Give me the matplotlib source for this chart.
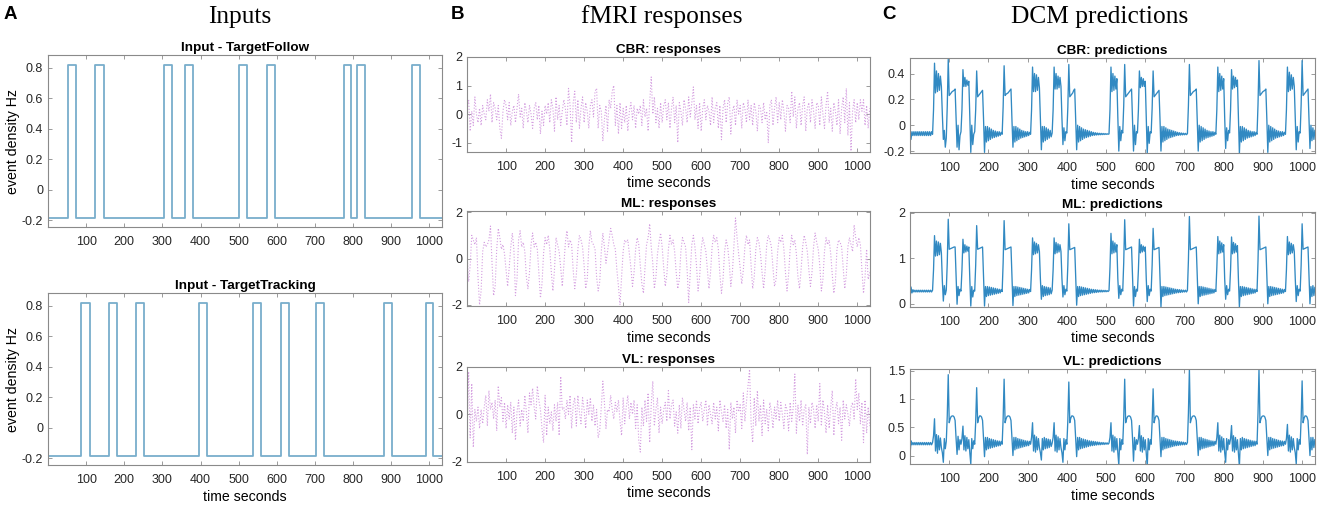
import numpy as np
import matplotlib.pyplot as plt

plt.rcParams['font.family'] = ['Liberation Sans', 'DejaVu Sans']

# ---- panel A: input blocks (seconds)
follow_on = [52, 124, 303, 358, 502, 575, 775, 810, 953]
follow_off = [74, 146, 324, 380, 523, 595, 794, 831, 974]
track_on = [87, 159, 231, 395, 538, 610, 702, 880, 990]
track_off = [109, 181, 252, 416, 559, 631, 724, 902, 1010]
input_low = -0.183
input_high = 0.817
t_end = 1033

# ---- panel B: measured fMRI responses, one sample every 4 s
resp_step = 4.0
cbr_resp = [
    0.2, 0.5, -0.6, 0.1, -0.4, 0.6, 0.0, -0.3, 0.2, -0.4, 0.3, 0.0, -0.2, 0.5, 0.1, 0.7, -0.3, 0.4, 0.2, -0.2, 0.3, -0.5, -0.85, 0.1, 0.5,
    0.3, -0.2, 0.4, -0.4, 0.1, 0.3, -0.3, 0.2, 0.7, -0.1, 0.2, -0.5, 0.4, 0.1, -0.3, 0.3, 0.0, -0.5, 0.2, 0.4, -0.2, 0.3, -0.7, 0.1, -0.4,
    0.3, 0.0, 0.4, -0.3, 0.5, 0.2, -0.6, 0.6, -0.2, 0.3, -0.4, 0.1, 0.5, 0.2, -0.4, 0.9, 0.3, -1.0, 0.4, 0.8, -0.3, 0.5, -0.5, 0.2, 0.6,
    -0.3, 0.4, 0.1, -0.5, 0.3, 0.5, -0.1, 0.8, 0.9, -0.5, 0.3, 0.1, -0.95, -0.2, 0.3, -0.6, 0.5, 0.2, 0.8, 1.0, -0.4, 0.3, -0.7, 0.4, -0.5,
    0.2, -0.3, 0.3, -0.6, 0.1, 0.4, -0.2, 0.3, -0.5, 0.2, 0.0, 0.3, -0.4, 0.5, -0.1, 0.2, -0.6, 0.4, 1.3, 0.0, 0.6, -0.3, 0.2, -0.5, 0.4,
    -0.3, 0.3, 0.5, -0.2, 0.4, -0.5, 0.2, 0.6, -0.3, 0.3, -1.0, 0.4, 0.1, -0.4, 0.5, 0.2, -0.3, 0.6, -0.1, 0.4, 0.95, -0.2, 0.3, -0.5, 0.4,
    -0.6, 0.2, 0.5, -0.2, 0.3, 0.1, -0.4, 0.6, -0.3, 0.2, 0.4, -0.5, 0.3, -0.9, 0.2, 0.5, -0.3, 0.4, 0.6, -0.7, 0.1, 0.3, -0.4, 0.5, 0.0,
    0.3, -0.5, 0.4, 0.2, -0.3, 0.5, -0.2, 0.3, -0.4, 0.4, 0.1, -0.6, 0.3, 0.2, -0.3, 0.4, -0.2, 0.1, -1.0, 0.3, 0.5, -0.4, 0.2, 0.6, -0.3,
    0.4, -0.2, 0.5, 0.1, -0.6, 0.3, 0.2, -0.3, 0.8, -0.1, 0.6, -0.5, 0.2, 0.4, -0.4, 0.3, 0.6, -0.6, 0.2, 0.4, -0.3, 0.5, 0.1, -0.5, 0.4,
    0.3, -0.4, 0.6, 0.0, -0.5, 0.3, 0.8, -0.3, 0.2, -0.6, 0.4, 0.1, -0.4, 0.5, -0.7, 0.2, 0.6, -0.3, 0.9, -0.75, 0.4, -1.3, 0.1, 0.5, -0.3,
    0.4, -0.2, 0.5, 0.1, 0.5, -0.4, 0.3, -0.5, 0.2,
]
ml_resp = [
    0.2, -1.0, -0.3, 1.0, 0.8, 0.6, 0.9, -0.8, -2.0, -1.4, 0.3, 0.7, 0.5, 0.6, 0.8, 1.4, -0.2, -1.6, -1.2, 0.4, 1.3, 0.9, 0.4, 0.6, 0.2,
    -0.5, -1.2, -0.4, 0.5, 1.1, 0.4, -1.6, -0.9, 0.8, 1.2, 0.5, 0.7, 0.3, -0.8, -1.3, -0.6, 0.6, 1.1, 0.5, 0.7, 0.4, -0.6, -1.7, -1.1, 0.2,
    0.9, 0.6, 1.0, 0.4, -0.6, -1.4, -0.5, 0.9, 0.6, 0.3, -0.4, -1.2, -0.3, 0.7, 1.2, 0.5, 0.8, 0.6, -0.5, -1.3, -0.7, 0.4, 1.0, 0.8, 0.5,
    -0.3, -1.3, -0.9, 0.5, 1.2, 0.7, 0.6, 0.4, -0.8, -1.4, -1.0, 0.3, 1.1, 0.5, -0.2, 0.3, 0.8, 1.3, 1.0, 0.6, 0.4, -0.5, -1.2, -2.0, -0.8,
    0.3, 0.8, 0.7, 0.8, 0.2, -0.4, -1.2, -0.6, 0.4, 0.9, 0.6, -0.3, -1.1, -1.5, -0.4, 0.6, 0.9, 1.5, 0.5, -0.2, -1.3, -0.8, 0.2, 0.7, 1.1,
    0.5, -0.4, -1.2, -0.7, 0.4, 1.0, 0.6, 0.8, 0.3, -0.6, -1.3, -0.9, 0.3, 0.9, 0.7, 0.5, -0.5, -1.9, -0.6, 0.6, 1.0, 0.5, -0.3, -1.4, -0.8,
    0.4, 0.9, 0.6, 0.3, -0.5, -1.3, -0.6, 0.5, 1.0, 0.7, 0.9, 0.4, -0.7, -1.5, -0.9, 0.3, 0.8, 0.5, -0.2, -1.2, -0.6, 0.6, 1.75, 0.9, 0.2,
    -0.4, -1.1, -0.5, 0.5, 1.0, 0.6, 0.8, -0.3, -1.3, -0.8, 0.4, 0.9, 0.7, 0.2, -0.6, -1.3, -0.5, 0.6, 1.0, 0.8, 0.5, -0.4, -1.2, -0.9, 0.3,
    0.9, 0.7, 1.0, 0.4, -0.6, -1.4, -0.7, 0.4, 1.0, 0.6, 0.8, 0.2, -0.8, -1.3, -0.5, 0.5, 1.0, 0.7, 0.3, -0.5, -1.2, -0.6, 0.5, 1.1, 0.7,
    0.4, -0.3, -1.4, -0.9, 0.3, 0.9, 0.6, 0.8, 0.2, -0.7, -1.5, -1.0, 0.4, 0.8, 0.7, 0.5, -0.4, -1.3, -0.7, 0.5, 0.9, 0.6, 0.3, 1.45, 0.9,
    0.5, 0.9, 0.6, -0.5, -1.5, -0.8, 0.4, -0.9, -0.6,
]
vl_resp = [
    -0.8, 1.8, -1.0, 1.3, -1.4, 0.2, -0.3, 0.3, -0.6, 0.2, -0.4, 0.3, 0.8, -0.5, 1.0, 0.2, 0.5, -0.2, 0.6, -0.7, 1.2, 0.3, 0.7, -0.3, 0.5,
    -0.6, 0.4, -0.2, 0.5, -0.8, 0.3, -1.1, 0.1, 0.6, -0.5, 0.2, -0.3, 0.8, 0.1, -0.8, 0.9, 0.4, 1.1, 0.3, -0.2, 1.2, 0.6, 0.2, -0.6, -1.2,
    0.8, -0.9, 0.3, -0.4, 0.1, -0.7, 0.4, -0.3, 0.5, -0.9, 1.6, 0.2, 0.3, -0.2, 0.6, 0.0, 0.8, -0.6, 0.4, 0.7, -0.5, 0.8, 0.1, -0.4, 0.7,
    0.2, -0.6, 0.6, 0.0, 0.7, -0.3, 0.4, -0.5, 0.2, -1.0, -0.7, 0.3, 1.4, 0.5, -0.6, 0.2, 0.1, 0.8, 0.2, -0.2, 0.5, 0.1, 0.6, -0.3, -0.9,
    0.7, -0.4, 0.3, 0.8, -0.2, 0.5, 0.0, 0.6, -0.6, 0.4, -1.1, -1.6, 0.3, -0.5, 0.6, -0.3, 0.9, -1.2, 0.4, 1.4, -0.5, 0.2, 0.7, -0.8, 0.3,
    -0.4, 0.2, 0.5, -0.3, 1.0, -0.2, 0.4, 0.6, -0.5, 0.1, -0.8, 0.4, -0.6, 0.7, 0.2, -0.3, 0.5, -0.7, 0.3, -1.5, 0.4, -0.2, 0.6, -0.4, 0.3,
    0.5, -0.3, 0.2, 0.6, -0.5, 0.4, 0.0, -0.4, 0.5, -0.2, 0.3, -0.7, 0.6, 0.1, -0.3, 0.4, -0.6, 0.2, -1.5, 0.5, -0.2, 0.3, -0.8, 0.6, 0.1,
    0.4, -0.6, 0.9, -0.3, 0.5, 1.2, 1.9, -0.4, -1.2, 0.7, -0.5, 1.0, -0.3, 0.4, -0.9, 0.6, -0.4, 0.2, -0.7, 0.5, 0.1, -0.6, 0.3, -0.2, 0.6,
    -0.3, 0.5, 0.0, -0.6, 0.4, 0.2, -0.7, 0.5, -0.3, 0.3, 1.7, -0.8, 0.4, -0.3, 0.6, -0.5, 0.2, 0.4, -1.7, 0.3, -0.4, 0.5, 0.2, -0.6, 0.4,
    -0.3, 1.3, -0.5, 0.6, 0.1, -0.8, 0.4, -0.6, 0.3, 1.0, -0.9, 0.2, 0.5, -0.4, 0.3, -1.1, 0.6, -0.2, 0.4, 0.0, -0.5, 0.3, 0.5, -0.2, 1.5,
    0.2, 0.9, -0.4, 0.5, -1.2, 0.6, -0.8, 0.3, -0.5,
]

# ---- panel C: DCM predictions, one sample every 2.5 s
pred_step = 2.5
cbr_pred = [
    -0.02, -0.11, -0.05, -0.08, -0.05, -0.08, -0.05, -0.08, -0.05, -0.08, -0.05, -0.08,
    -0.05, -0.08, -0.05, -0.08, -0.05, -0.08, -0.05, -0.08, -0.05, -0.08, -0.05, -0.07,
    0.12, 0.48, 0.25, 0.42, 0.26, 0.40, 0.27, 0.38, 0.30, 0.08, -0.11, -0.04,
    -0.17, -0.10,
    0.15, 0.51, 0.23, 0.24, 0.25, 0.26, 0.265, 0.27, 0.28, 0.05, -0.17, 0.00,
    -0.19, -0.08, -0.05,
    0.12, 0.43, 0.30, 0.37, 0.30, 0.35, 0.31, 0.34, 0.06, -0.21, 0.00,
    -0.15, -0.07, -0.05,
    0.12, 0.42, 0.22, 0.23, 0.24, 0.25, 0.26, 0.27, 0.05, -0.21, -0.01,
    -0.13, -0.01, -0.12, -0.02, -0.11, -0.03, -0.10, -0.04, -0.095, -0.045, -0.09, -0.05, -0.085, -0.05, -0.08, -0.055, -0.07,
    0.14, 0.46, 0.23, 0.24, 0.245, 0.25, 0.26, 0.27, 0.28, 0.04, -0.17, -0.01,
    -0.13, -0.01, -0.12, -0.02, -0.11, -0.03, -0.10, -0.04, -0.095, -0.045, -0.09, -0.05, -0.085, -0.05, -0.08, -0.055, -0.07,
    0.12, 0.45, 0.26, 0.40, 0.26, 0.39, 0.27, 0.37, 0.29, 0.06, -0.19, -0.01,
    -0.13, -0.01, -0.12, -0.02, -0.11, -0.03, -0.10, -0.04, -0.09, -0.06,
    0.12, 0.45, 0.28, 0.40, 0.28, 0.38, 0.29, 0.37, 0.30, 0.05, -0.15, -0.02,
    -0.12, -0.05, -0.06,
    0.14, 0.47, 0.22, 0.23, 0.24, 0.25, 0.27, 0.28, 0.05, -0.19, 0.00,
    -0.13, -0.01, -0.12, -0.02, -0.11, -0.03, -0.10, -0.035, -0.095, -0.04, -0.09, -0.045, -0.085, -0.05, -0.08, -0.055,
    -0.078, -0.058, -0.076, -0.06, -0.075, -0.062, -0.074, -0.063, -0.073, -0.064, -0.072, -0.065, -0.071, -0.066, -0.07, -0.067,
    0.12, 0.45, 0.26, 0.40, 0.27, 0.38, 0.28, 0.36, 0.06, -0.20, -0.01,
    -0.12, -0.04, -0.06,
    0.15, 0.47, 0.22, 0.23, 0.24, 0.25, 0.26, 0.27, 0.28, 0.05, -0.20, 0.00,
    -0.15, -0.05, -0.06,
    0.12, 0.42, 0.29, 0.37, 0.30, 0.36, 0.30, 0.34, 0.05, -0.22, -0.01,
    -0.14, -0.05, -0.06,
    0.13, 0.42, 0.22, 0.23, 0.24, 0.25, 0.26, 0.27, 0.05, -0.20, -0.01,
    -0.13, -0.01, -0.12, -0.02, -0.11, -0.03, -0.10, -0.035, -0.095, -0.04, -0.09, -0.045, -0.085,
    -0.05, -0.08, -0.055, -0.078, -0.058, -0.076, -0.06, -0.075, -0.062, -0.074, -0.063, -0.073, -0.065,
    0.15, 0.47, 0.23, 0.24, 0.25, 0.26, 0.265, 0.27, 0.28, 0.05, -0.20, 0.00,
    -0.13, -0.01, -0.12, -0.02, -0.11, -0.03, -0.10, -0.04, -0.095, -0.045, -0.09, -0.05, -0.085, -0.05, -0.08, -0.055, -0.07,
    0.12, 0.45, 0.26, 0.40, 0.27, 0.38, 0.28, 0.36, 0.06, -0.18, -0.02,
    -0.12, -0.04, -0.06,
    0.12, 0.43, 0.28, 0.38, 0.29, 0.37, 0.30, 0.35, 0.05, -0.22, -0.01,
    -0.13, -0.01, -0.12, -0.02, -0.11, -0.03, -0.10, -0.04, -0.095, -0.045, -0.09, -0.05, -0.085, -0.05, -0.08, -0.055, -0.07,
    0.16, 0.50, 0.23, 0.24, 0.25, 0.26, 0.265, 0.27, 0.28, 0.05, -0.21, 0.00,
    -0.13, -0.01, -0.12, -0.02, -0.11, -0.03, -0.10, -0.04, -0.095, -0.045, -0.09, -0.05, -0.085, -0.05, -0.08, -0.055, -0.07,
    0.12, 0.45, 0.26, 0.41, 0.27, 0.39, 0.28, 0.37, 0.30, 0.06, -0.19, -0.01,
    -0.13, -0.05, -0.06,
    0.16, 0.50, 0.23, 0.24, 0.25, 0.26, 0.27, 0.28, 0.05, -0.18, 0.00,
    -0.12, -0.02, -0.11, -0.04,
]
ml_pred = [
    0.10, 0.37, 0.24, 0.31, 0.26, 0.30, 0.26, 0.30, 0.26, 0.30, 0.26, 0.30,
    0.26, 0.30, 0.26, 0.30, 0.26, 0.30, 0.26, 0.30, 0.26, 0.30, 0.26, 0.30,
    0.75, 1.50, 1.05, 1.38, 1.06, 1.36, 1.08, 1.33, 1.12, 0.50, 0.06, 0.40,
    0.20, 0.30,
    0.90, 1.86, 1.20, 1.21, 1.22, 1.23, 1.24, 1.25, 1.25, 0.60, -0.01, 0.38,
    0.18, 0.32, 0.28,
    0.75, 1.42, 1.12, 1.30, 1.14, 1.27, 1.16, 1.25, 0.55, -0.05, 0.38,
    0.15, 0.30, 0.28,
    0.85, 1.72, 1.20, 1.21, 1.22, 1.23, 1.24, 1.25, 0.60, -0.05, 0.38,
    0.16, 0.38, 0.18, 0.37, 0.19, 0.36, 0.20, 0.35, 0.21, 0.34, 0.22, 0.33, 0.23, 0.32, 0.24, 0.315, 0.27,
    0.90, 1.83, 1.19, 1.20, 1.21, 1.22, 1.23, 1.24, 1.25, 0.60, -0.04, 0.38,
    0.16, 0.38, 0.18, 0.37, 0.19, 0.36, 0.20, 0.35, 0.21, 0.34, 0.22, 0.33, 0.23, 0.32, 0.24, 0.315, 0.27,
    0.75, 1.45, 1.08, 1.36, 1.10, 1.33, 1.12, 1.30, 1.15, 0.55, 0.10, 0.40,
    0.16, 0.38, 0.18, 0.37, 0.19, 0.36, 0.20, 0.35, 0.22, 0.30,
    0.75, 1.45, 1.10, 1.35, 1.12, 1.32, 1.14, 1.30, 1.15, 0.55, 0.15, 0.40,
    0.20, 0.32, 0.28,
    0.85, 1.76, 1.19, 1.20, 1.21, 1.22, 1.23, 1.24, 0.60, -0.03, 0.38,
    0.16, 0.38, 0.18, 0.37, 0.19, 0.36, 0.20, 0.35, 0.21, 0.34, 0.22, 0.33, 0.23, 0.32, 0.24, 0.315,
    0.245, 0.31, 0.25, 0.305, 0.255, 0.30, 0.26, 0.30, 0.26, 0.295, 0.265, 0.295, 0.265, 0.29, 0.27, 0.29,
    0.80, 1.55, 1.10, 1.38, 1.12, 1.34, 1.14, 1.30, 0.55, 0.12, 0.40,
    0.20, 0.32, 0.28,
    0.90, 1.85, 1.19, 1.20, 1.21, 1.22, 1.23, 1.24, 1.25, 0.60, -0.05, 0.38,
    0.16, 0.32, 0.28,
    0.75, 1.42, 1.12, 1.30, 1.14, 1.27, 1.16, 1.25, 0.55, 0.05, 0.40,
    0.18, 0.32, 0.28,
    0.85, 1.66, 1.19, 1.20, 1.21, 1.22, 1.23, 1.24, 0.60, -0.07, 0.38,
    0.16, 0.38, 0.18, 0.37, 0.19, 0.36, 0.20, 0.35, 0.21, 0.34, 0.22, 0.33, 0.23,
    0.32, 0.24, 0.315, 0.245, 0.31, 0.25, 0.305, 0.255, 0.30, 0.26, 0.30, 0.26, 0.295,
    0.95, 1.92, 1.19, 1.20, 1.21, 1.22, 1.23, 1.24, 1.25, 0.60, 0.00, 0.38,
    0.16, 0.38, 0.18, 0.37, 0.19, 0.36, 0.20, 0.35, 0.21, 0.34, 0.22, 0.33, 0.23, 0.32, 0.24, 0.315, 0.27,
    0.80, 1.48, 1.10, 1.38, 1.12, 1.34, 1.14, 1.30, 0.55, 0.10, 0.40,
    0.20, 0.32, 0.28,
    0.75, 1.47, 1.10, 1.35, 1.12, 1.32, 1.14, 1.28, 0.55, -0.07, 0.38,
    0.16, 0.38, 0.18, 0.37, 0.19, 0.36, 0.20, 0.35, 0.21, 0.34, 0.22, 0.33, 0.23, 0.32, 0.24, 0.315, 0.27,
    0.95, 1.93, 1.19, 1.20, 1.21, 1.22, 1.23, 1.24, 1.25, 0.60, 0.00, 0.38,
    0.16, 0.38, 0.18, 0.37, 0.19, 0.36, 0.20, 0.35, 0.21, 0.34, 0.22, 0.33, 0.23, 0.32, 0.24, 0.315, 0.27,
    0.75, 1.48, 1.08, 1.36, 1.10, 1.33, 1.12, 1.30, 1.15, 0.55, 0.05, 0.40,
    0.18, 0.32, 0.28,
    0.85, 1.76, 1.20, 1.21, 1.22, 1.23, 1.24, 1.25, 0.60, 0.00, 0.38,
    0.16, 0.40, 0.18, 0.36,
]
vl_pred = [
    0.00, 0.26, 0.19, 0.23, 0.19, 0.23, 0.19, 0.23, 0.19, 0.23, 0.19, 0.23,
    0.19, 0.23, 0.19, 0.23, 0.19, 0.23, 0.19, 0.23, 0.19, 0.23, 0.19, 0.23,
    0.35, 0.65, 0.08, 0.37, 0.04, 0.35, 0.10, 0.31, 0.14, 0.05, -0.12, 0.30,
    0.12, 0.25,
    0.70, 1.43, 0.58, 0.65, 0.69, 0.70, 0.70, 0.68, 0.62, 0.30, 0.02, 0.34,
    0.10, 0.28, 0.20,
    0.30, 0.52, 0.10, 0.35, 0.08, 0.32, 0.12, 0.28, 0.05, -0.15, 0.30,
    0.12, 0.26, 0.20,
    0.60, 1.20, 0.58, 0.66, 0.70, 0.70, 0.68, 0.62, 0.30, -0.02, 0.32,
    0.10, 0.32, 0.12, 0.30, 0.13, 0.29, 0.14, 0.28, 0.15, 0.27, 0.16, 0.26, 0.17, 0.255, 0.175, 0.25, 0.20,
    0.65, 1.35, 0.58, 0.65, 0.69, 0.70, 0.70, 0.68, 0.62, 0.30, 0.00, 0.32,
    0.10, 0.32, 0.12, 0.30, 0.13, 0.29, 0.14, 0.28, 0.15, 0.27, 0.16, 0.26, 0.17, 0.255, 0.175, 0.25, 0.20,
    0.32, 0.58, 0.08, 0.36, 0.06, 0.33, 0.10, 0.30, 0.14, 0.05, -0.08, 0.30,
    0.10, 0.32, 0.12, 0.30, 0.13, 0.29, 0.14, 0.28, 0.16, 0.22,
    0.32, 0.58, 0.08, 0.36, 0.06, 0.33, 0.10, 0.30, 0.14, 0.05, -0.12, 0.30,
    0.10, 0.28, 0.20,
    0.62, 1.30, 0.58, 0.66, 0.70, 0.70, 0.68, 0.62, 0.30, -0.02, 0.32,
    0.10, 0.32, 0.12, 0.30, 0.13, 0.29, 0.14, 0.28, 0.15, 0.27, 0.16, 0.26, 0.17, 0.255, 0.175, 0.25,
    0.18, 0.245, 0.185, 0.24, 0.19, 0.235, 0.19, 0.23, 0.195, 0.23, 0.195, 0.225, 0.20, 0.225, 0.20, 0.22,
    0.32, 0.58, 0.08, 0.36, 0.06, 0.33, 0.10, 0.30, 0.05, -0.17, 0.30,
    0.10, 0.28, 0.20,
    0.65, 1.35, 0.58, 0.65, 0.69, 0.70, 0.70, 0.68, 0.62, 0.30, -0.10, 0.32,
    0.10, 0.28, 0.20,
    0.30, 0.53, 0.08, 0.35, 0.06, 0.32, 0.10, 0.28, 0.05, -0.20, 0.30,
    0.10, 0.28, 0.20,
    0.60, 1.18, 0.58, 0.66, 0.70, 0.70, 0.68, 0.62, 0.30, -0.02, 0.32,
    0.10, 0.32, 0.12, 0.30, 0.13, 0.29, 0.14, 0.28, 0.15, 0.27, 0.16, 0.26, 0.17,
    0.255, 0.175, 0.25, 0.18, 0.245, 0.185, 0.24, 0.19, 0.235, 0.19, 0.23, 0.195, 0.23,
    0.75, 1.53, 0.58, 0.65, 0.69, 0.70, 0.70, 0.68, 0.62, 0.30, 0.00, 0.32,
    0.10, 0.32, 0.12, 0.30, 0.13, 0.29, 0.14, 0.28, 0.15, 0.27, 0.16, 0.26, 0.17, 0.255, 0.175, 0.25, 0.20,
    0.32, 0.58, 0.08, 0.36, 0.06, 0.33, 0.10, 0.30, 0.05, -0.12, 0.30,
    0.10, 0.28, 0.20,
    0.30, 0.53, 0.08, 0.35, 0.06, 0.32, 0.10, 0.28, 0.05, -0.20, 0.30,
    0.10, 0.32, 0.12, 0.30, 0.13, 0.29, 0.14, 0.28, 0.15, 0.27, 0.16, 0.26, 0.17, 0.255, 0.175, 0.25, 0.20,
    0.75, 1.53, 0.58, 0.65, 0.69, 0.70, 0.70, 0.68, 0.62, 0.30, 0.00, 0.32,
    0.10, 0.32, 0.12, 0.30, 0.13, 0.29, 0.14, 0.28, 0.15, 0.27, 0.16, 0.26, 0.17, 0.255, 0.175, 0.25, 0.20,
    0.30, 0.55, 0.08, 0.36, 0.06, 0.33, 0.10, 0.30, 0.14, 0.05, -0.15, 0.30,
    0.10, 0.28, 0.20,
    0.65, 1.32, 0.58, 0.66, 0.70, 0.70, 0.68, 0.62, 0.30, 0.00, 0.32,
    0.10, 0.32, 0.14, 0.28,
]

input_color = '#78aecc'
resp_color = '#d49ee0'
pred_color = '#3189c2'
frame_color = '#8a8a8a'
xmax = 1033
tick_size = 9
label_size = 10.2
title_size = 9.7


def step_trace(onsets, offsets):
    xs, ys = [0], [input_low]
    for on, off in zip(onsets, offsets):
        xs += [on, on, off, off]
        ys += [input_low, input_high, input_high, input_low]
    xs.append(t_end)
    ys.append(input_low)
    return xs, ys


def style(ax, ylim, yticks, ylabels):
    ax.set_xlim(0, xmax)
    ax.set_ylim(*ylim)
    ax.set_xticks(range(100, 1001, 100))
    ax.set_yticks(yticks)
    ax.set_yticklabels(ylabels)
    ax.tick_params(direction='in', top=True, right=True, length=3, width=0.6,
                   color=frame_color, labelcolor='#262626', labelsize=tick_size)
    ax.tick_params(axis='x', pad=6.5)
    ax.tick_params(axis='y', pad=3.5)
    for s in ax.spines.values():
        s.set_color(frame_color)
        s.set_linewidth(0.8)


fig = plt.figure(figsize=(13.25, 5.08), dpi=100)

# column A
a_ticks = [-0.2, 0, 0.2, 0.4, 0.6, 0.8]
a_labels = ['-0.2', '0', '0.2', '0.4', '0.6', '0.8']
for bottom, title, on, off, xlab in [(0.5531, 'Input - TargetFollow', follow_on, follow_off, False),
                                     (0.0846, 'Input - TargetTracking', track_on, track_off, True)]:
    ax = fig.add_axes([0.0362, bottom, 0.2974, 0.3386])
    xs, ys = step_trace(on, off)
    ax.plot(xs, ys, color=input_color, lw=1.3)
    style(ax, (-0.245, 0.883), a_ticks, a_labels)
    ax.set_title(title, fontsize=title_size, fontweight='bold', pad=3)
    ax.set_ylabel('event density Hz', fontsize=label_size, labelpad=1)
    if xlab:
        ax.set_xlabel('time seconds', fontsize=label_size, labelpad=2.5)

# column B
b_rows = [
    (0.7008, 'CBR: responses', cbr_resp, (-1.33, 2.0), [-1, 0, 1, 2]),
    (0.3976, 'ML: responses', ml_resp, (-2.05, 2.05), [-2, 0, 2]),
    (0.0906, 'VL: responses', vl_resp, (-2.02, 2.0), [-2, 0, 2]),
]
for bottom, title, vals, ylim, yt in b_rows:
    ax = fig.add_axes([0.3525, bottom, 0.3042, 0.187])
    ax.plot(np.arange(len(vals)) * resp_step, vals, color=resp_color, lw=0.8, ls=':')
    style(ax, ylim, yt, [str(v) for v in yt])
    ax.set_title(title, fontsize=title_size, fontweight='bold', pad=3)
    ax.set_xlabel('time seconds', fontsize=label_size, labelpad=2.5)

# column C
c_rows = [
    (0.6988, 'CBR: predictions', cbr_pred, (-0.215, 0.52), [-0.2, 0, 0.2, 0.4], ['-0.2', '0', '0.2', '0.4']),
    (0.3957, 'ML: predictions', ml_pred, (-0.07, 2.02), [0, 1, 2], ['0', '1', '2']),
    (0.0866, 'VL: predictions', vl_pred, (-0.15, 1.53), [0, 0.5, 1, 1.5], ['0', '0.5', '1', '1.5']),
]
for bottom, title, vals, ylim, yt, yl in c_rows:
    ax = fig.add_axes([0.6868, bottom, 0.3057, 0.187])
    ax.plot(np.arange(len(vals)) * pred_step, vals, color=pred_color, lw=0.95)
    style(ax, ylim, yt, yl)
    ax.set_title(title, fontsize=title_size, fontweight='bold', pad=3)
    ax.set_xlabel('time seconds', fontsize=label_size, labelpad=2.5)

# panel letters and column headings
for x, letter in [(0.0076, 'A'), (0.345, 'B'), (0.671, 'C')]:
    fig.text(x, 0.972, letter, fontsize=13.5, fontweight='bold', ha='center', va='center')
for x, head in [(0.181, 'Inputs'), (0.4997, 'fMRI responses'), (0.830, 'DCM predictions')]:
    fig.text(x, 0.955, head, fontsize=18.3, family=['Liberation Serif', 'DejaVu Serif'],
             ha='center', va='baseline')

fig.savefig('out.png', dpi=100)
